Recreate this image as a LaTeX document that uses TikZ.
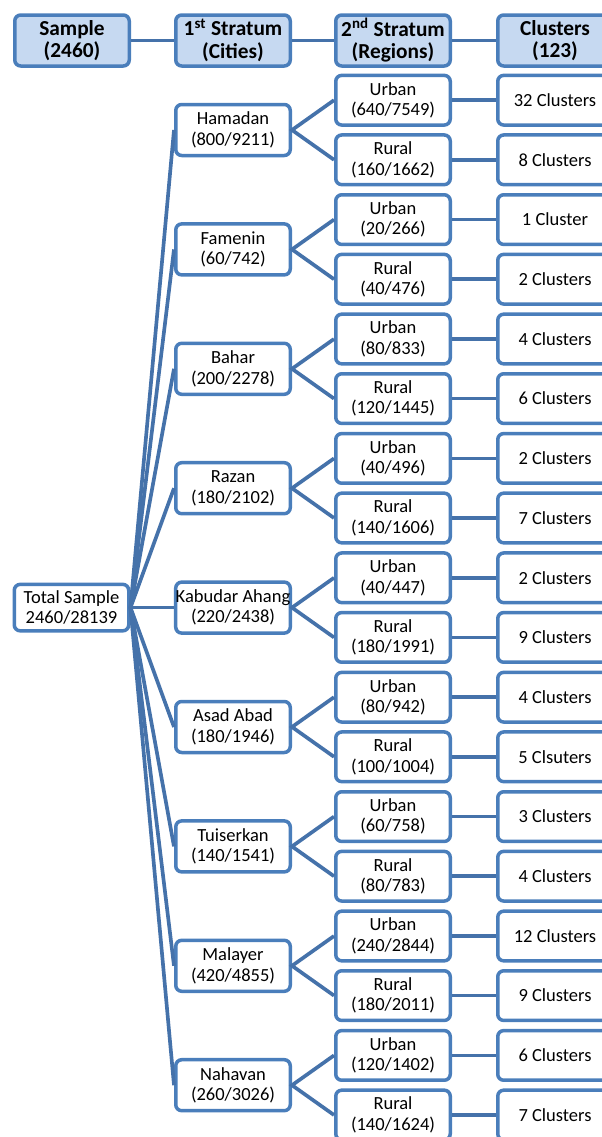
\documentclass[tikz,border=0pt]{standalone}
\usepackage{fontspec}
\setmainfont{Carlito}
\usepackage{tikz}
\definecolor{boxline}{RGB}{74,126,187}
\definecolor{linkline}{RGB}{69,114,170}
\definecolor{hdrfill}{RGB}{198,217,241}

\begin{document}
\begin{tikzpicture}[x=0.6pt,y=-0.6pt,
  box/.style={draw=boxline,line width=2.1pt,rounded corners=3.6pt,fill=white,
    minimum width=68.7pt,minimum height=30.6pt,inner sep=0pt,align=center,
    font=\fontsize{11.1}{12.2}\selectfont},
  hdr/.style={box,fill=hdrfill,font=\fontsize{12.8}{13.6}\selectfont\bfseries},
  city/.style={box},
  region/.style={box,minimum height=29.8pt},
  clus/.style={box,minimum height=29.8pt},
  link/.style={draw=linkline,line width=2.2pt}]
  \useasboundingbox (0,0) rectangle (602,1137);
  \clip (0,0) rectangle (602,1137);
  % ---------------- header row
  \node[hdr] (hsample) at (72,40.5) {Sample\\(2460)};
  \node[hdr] (hcity) at (233,40.5) {1\textsuperscript{st} Stratum\\(Cities)};
  \node[hdr] (hregion) at (393,40.5) {2\textsuperscript{nd} Stratum\\(Regions)};
  \node[hdr] (hclus) at (555,40.5) {Clusters\\(123)};
  \draw[link] (hsample) -- (hcity);
  \draw[link] (hcity) -- (hregion);
  \draw[link] (hregion) -- (hclus);
  % ---------------- total sample and the cities
  \node[box,minimum height=27.9pt] (total) at (71.5,607.6) {Total Sample\\2460/28139};
  \node[city] (hamadan) at (233,130) {Hamadan\\(800/9211)};
  \node[city] (famenin) at (233,249.4) {Famenin\\(60/742)};
  \node[city] (bahar) at (233,368.8) {Bahar\\(200/2278)};
  \node[city] (razan) at (233,488.2) {Razan\\(180/2102)};
  \node[city] (kabudar) at (233,607.6) {Kabudar Ahang\\(220/2438)};
  \node[city] (asadabad) at (233,727) {Asad Abad\\(180/1946)};
  \node[city] (tuiserkan) at (233,846.4) {Tuiserkan\\(140/1541)};
  \node[city] (malayer) at (233,965.8) {Malayer\\(420/4855)};
  \node[city] (nahavan) at (233,1085.2) {Nahavan\\(260/3026)};
  % ---------------- regions
  \node[region] (hamU) at (393,100.2) {Urban\\(640/7549)};
  \node[region] (hamR) at (393,159.8) {Rural\\(160/1662)};
  \node[region] (famU) at (393,219.6) {Urban\\(20/266)};
  \node[region] (famR) at (393,279.2) {Rural\\(40/476)};
  \node[region] (bahU) at (393,339) {Urban\\(80/833)};
  \node[region] (bahR) at (393,398.6) {Rural\\(120/1445)};
  \node[region] (razU) at (393,458.4) {Urban\\(40/496)};
  \node[region] (razR) at (393,518) {Rural\\(140/1606)};
  \node[region] (kabU) at (393,577.8) {Urban\\(40/447)};
  \node[region] (kabR) at (393,637.4) {Rural\\(180/1991)};
  \node[region] (asaU) at (393,697.2) {Urban\\(80/942)};
  \node[region] (asaR) at (393,756.8) {Rural\\(100/1004)};
  \node[region] (tuiU) at (393,816.6) {Urban\\(60/758)};
  \node[region] (tuiR) at (393,876.2) {Rural\\(80/783)};
  \node[region] (malU) at (393,936) {Urban\\(240/2844)};
  \node[region] (malR) at (393,995.6) {Rural\\(180/2011)};
  \node[region] (nahU) at (393,1055.4) {Urban\\(120/1402)};
  \node[region] (nahR) at (393,1115) {Rural\\(140/1624)};
  % ---------------- clusters
  \node[clus] (hamUc) at (555,100.2) {32 Clusters};
  \node[clus] (hamRc) at (555,159.8) {8 Clusters};
  \node[clus] (famUc) at (555,219.6) {1 Cluster};
  \node[clus] (famRc) at (555,279.2) {2 Clusters};
  \node[clus] (bahUc) at (555,339) {4 Clusters};
  \node[clus] (bahRc) at (555,398.6) {6 Clusters};
  \node[clus] (razUc) at (555,458.4) {2 Clusters};
  \node[clus] (razRc) at (555,518) {7 Clusters};
  \node[clus] (kabUc) at (555,577.8) {2 Clusters};
  \node[clus] (kabRc) at (555,637.4) {9 Clusters};
  \node[clus] (asaUc) at (555,697.2) {4 Clusters};
  \node[clus] (asaRc) at (555,756.8) {5 Clsuters};
  \node[clus] (tuiUc) at (555,816.6) {3 Clusters};
  \node[clus] (tuiRc) at (555,876.2) {4 Clusters};
  \node[clus] (malUc) at (555,936) {12 Clusters};
  \node[clus] (malRc) at (555,995.6) {9 Clusters};
  \node[clus] (nahUc) at (555,1055.4) {6 Clusters};
  \node[clus] (nahRc) at (555,1115) {7 Clusters};
  % ---------------- connectors
  \draw[link] (total.east) -- (hamadan.west);
  \draw[link] (total.east) -- (famenin.west);
  \draw[link] (total.east) -- (bahar.west);
  \draw[link] (total.east) -- (razan.west);
  \draw[link] (total.east) -- (kabudar.west);
  \draw[link] (total.east) -- (asadabad.west);
  \draw[link] (total.east) -- (tuiserkan.west);
  \draw[link] (total.east) -- (malayer.west);
  \draw[link] (total.east) -- (nahavan.west);
  \draw[link] (hamU.west) -- (hamadan.east) -- (hamR.west);
  \draw[link] (famU.west) -- (famenin.east) -- (famR.west);
  \draw[link] (bahU.west) -- (bahar.east) -- (bahR.west);
  \draw[link] (razU.west) -- (razan.east) -- (razR.west);
  \draw[link] (kabU.west) -- (kabudar.east) -- (kabR.west);
  \draw[link] (asaU.west) -- (asadabad.east) -- (asaR.west);
  \draw[link] (tuiU.west) -- (tuiserkan.east) -- (tuiR.west);
  \draw[link] (malU.west) -- (malayer.east) -- (malR.west);
  \draw[link] (nahU.west) -- (nahavan.east) -- (nahR.west);
  \draw[link] (hamU) -- (hamUc);  \draw[link] (hamR) -- (hamRc);
  \draw[link] (famU) -- (famUc);  \draw[link] (famR) -- (famRc);
  \draw[link] (bahU) -- (bahUc);  \draw[link] (bahR) -- (bahRc);
  \draw[link] (razU) -- (razUc);  \draw[link] (razR) -- (razRc);
  \draw[link] (kabU) -- (kabUc);  \draw[link] (kabR) -- (kabRc);
  \draw[link] (asaU) -- (asaUc);  \draw[link] (asaR) -- (asaRc);
  \draw[link] (tuiU) -- (tuiUc);  \draw[link] (tuiR) -- (tuiRc);
  \draw[link] (malU) -- (malUc);  \draw[link] (malR) -- (malRc);
  \draw[link] (nahU) -- (nahUc);  \draw[link] (nahR) -- (nahRc);
\end{tikzpicture}
\end{document}
